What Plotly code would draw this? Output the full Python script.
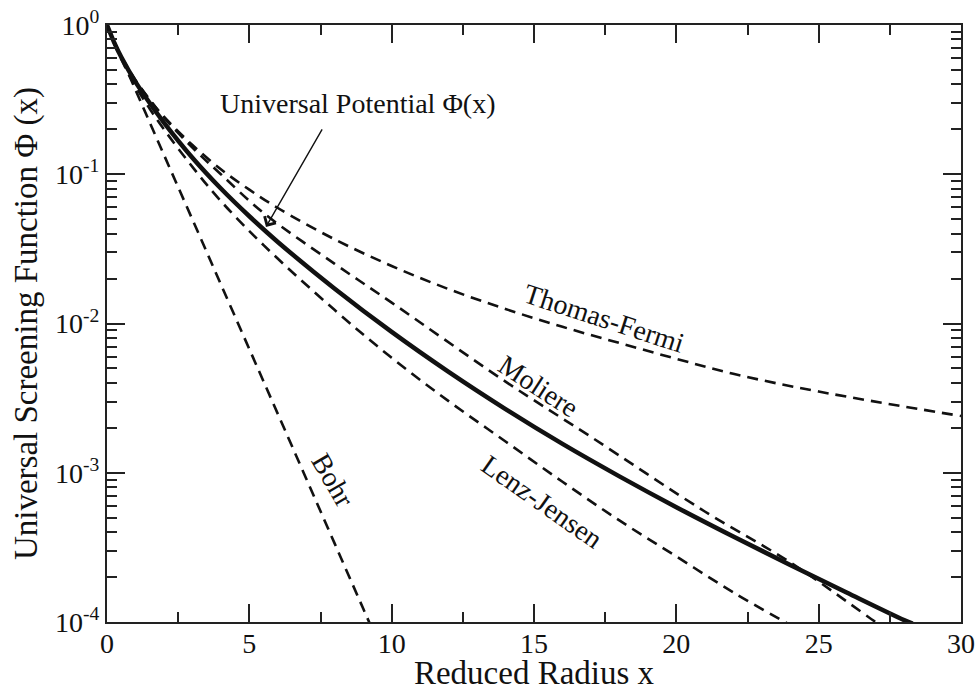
import plotly.graph_objects as go

# Universal (ZBL) screening function
x_universal = [0, 0.25, 0.5, 1, 1.5, 2, 3, 4, 5, 6, 8, 10, 12, 14, 16, 18, 20, 22, 24, 26, 28, 28.3]
phi_universal = [1.0, 0.765, 0.610, 0.416, 0.300, 0.222, 0.129, 0.0802, 0.0523, 0.0352, 0.0171,
                 0.00878, 0.00474, 0.00267, 0.00156, 0.000946, 0.000588, 0.000374, 0.000241,
                 0.000157, 0.000103, 0.0000975]

# Thomas-Fermi
x_tf = [0, 0.25, 0.5, 1, 1.5, 2, 3, 4, 5, 6, 8, 10, 12, 14, 16, 18, 20, 22, 25, 30]
phi_tf = [1.0, 0.755, 0.607, 0.424, 0.315, 0.243, 0.157, 0.108, 0.0788, 0.0594, 0.0366, 0.0243,
          0.0170, 0.0125, 0.0095, 0.0074, 0.0058, 0.0046, 0.0035, 0.0024]

# Moliere
x_mol = [0, 0.25, 0.5, 1, 1.5, 2, 3, 4, 5.5, 8, 10, 14, 17, 21, 24, 27, 27.3]
phi_mol = [1.0, 0.776, 0.617, 0.427, 0.316, 0.240, 0.151, 0.100, 0.055, 0.0251, 0.0138, 0.00408,
           0.00174, 0.00055, 0.000251, 0.000100, 0.0000915]

# Lenz-Jensen
x_lj = [0, 0.25, 0.5, 1, 1.5, 2, 3, 4, 5.5, 8, 10, 12, 14, 16, 18, 20, 22, 24]
phi_lj = [1.0, 0.759, 0.589, 0.389, 0.275, 0.200, 0.112, 0.0661, 0.0335, 0.0123, 0.00589,
          0.00302, 0.00162, 0.00087, 0.000479, 0.000275, 0.000158, 0.0000955]

# Bohr
x_bohr = [0, 1, 2, 3, 4, 5, 6, 7, 8, 9, 10]
phi_bohr = [1.0, 0.368, 0.135, 0.0498, 0.0183, 0.00674, 0.00248, 0.000912, 0.000335, 0.000123,
            0.0000454]

x_ticks = [0, 5, 10, 15, 20, 25, 30]
x_minor = [2.5, 7.5, 12.5, 17.5, 22.5, 27.5]
y_ticks = [1e-4, 1e-3, 1e-2, 1e-1, 1]
y_ticktext = ["10<sup>-4</sup>", "10<sup>-3</sup>", "10<sup>-2</sup>", "10<sup>-1</sup>", "10<sup>0</sup>"]
y_minor = [k * 10.0 ** e for e in range(-4, 0) for k in range(2, 10)]

FONT = "Liberation Serif"
INK = "#111111"
DASH = "11px,7px"

fig = go.Figure()
for xs, ys in [(x_tf, phi_tf), (x_mol, phi_mol), (x_lj, phi_lj), (x_bohr, phi_bohr)]:
    fig.add_trace(go.Scatter(x=xs, y=ys, mode="lines", showlegend=False, hoverinfo="skip",
                             line=dict(color=INK, width=2.6, dash=DASH, shape="spline")))
fig.add_trace(go.Scatter(x=x_universal, y=phi_universal, mode="lines", showlegend=False,
                         hoverinfo="skip", line=dict(color=INK, width=4.5, shape="spline")))

axis_common = dict(showline=True, linecolor="#222222", linewidth=2, mirror="ticks",
                   ticks="inside", ticklen=18, tickwidth=1.5, tickcolor="#222222",
                   showgrid=False, zeroline=False, automargin=False,
                   tickfont=dict(family=FONT, size=28, color=INK))

fig.update_xaxes(range=[0, 30], tickmode="array", tickvals=x_ticks, ticklabelstandoff=-5,
                 minor=dict(tickmode="array", tickvals=x_minor, ticks="inside", ticklen=10,
                            tickwidth=1.5, tickcolor="#222222", showgrid=False),
                 title=dict(text="Reduced Radius x", font=dict(family=FONT, size=33, color=INK),
                            standoff=2),
                 **axis_common)
fig.update_yaxes(type="log", range=[-4, 0], tickmode="array", tickvals=y_ticks,
                 ticktext=y_ticktext,
                 minor=dict(tickmode="array", tickvals=y_minor, ticks="inside", ticklen=10,
                            tickwidth=1.5, tickcolor="#222222", showgrid=False),
                 title=dict(text="Universal Screening Function \u03a6 (x)",
                            font=dict(family=FONT, size=33, color=INK), standoff=8),
                 **axis_common)

curve_labels = [
    ("Thomas-Fermi", 17.49, -1.965, 18),
    ("Moliere", 15.17, -2.423, 33),
    ("Lenz-Jensen", 15.27, -3.194, 35),
    ("Bohr", 7.95, -3.049, 60),
]
for text, xx, yy, ang in curve_labels:
    fig.add_annotation(x=xx, y=yy, text=text, showarrow=False, textangle=ang,
                       xanchor="center", yanchor="middle",
                       font=dict(family=FONT, size=28, color=INK))

fig.add_annotation(x=8.82, y=-0.523, text="Universal Potential \u03a6(x)", showarrow=False,
                   xanchor="center", yanchor="middle", font=dict(family=FONT, size=28, color=INK))
fig.add_annotation(x=5.585, y=-1.353, text="", showarrow=True, ax=57, ay=-99,
                   arrowhead=4, arrowsize=1.8, arrowwidth=1.4, arrowcolor=INK)

fig.update_layout(width=977, height=691, margin=dict(l=107, r=16, t=25, b=69, autoexpand=False),
                  plot_bgcolor="white", paper_bgcolor="white",
                  font=dict(family=FONT, color=INK))

fig.write_html("out.html")
